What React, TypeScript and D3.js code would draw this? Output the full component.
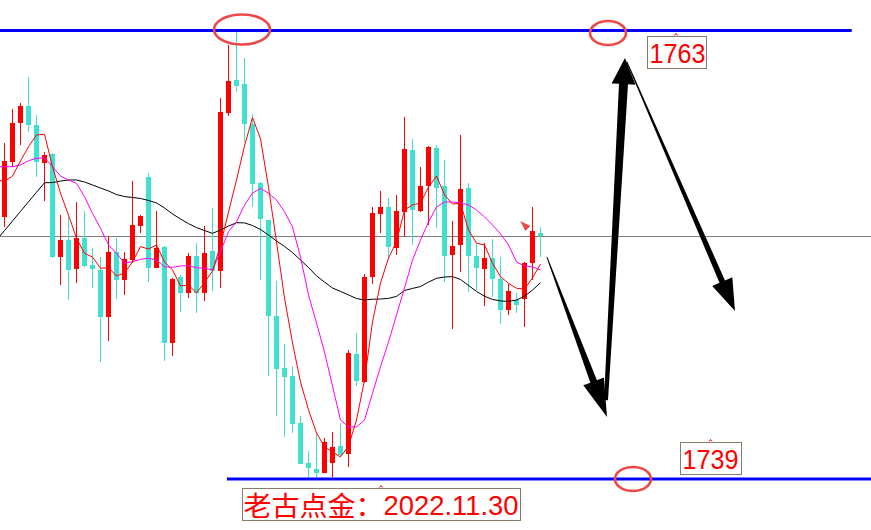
import React from 'react';
import * as d3 from 'd3';

const W = 871;
const H = 530;

// ---- candle data (index 0..67) ----
const opens = [1753.05,1755.97,1758.09,1759.00,1757.96,1755.91,1756.41,1750.91,1751.80,1750.25,1751.93,1750.46,1750.20,1747.70,1751.14,1749.66,1750.73,1752.55,1755.19,1750.32,1751.45,1746.27,1749.82,1748.95,1750.95,1748.95,1751.21,1750.16,1758.62,1760.38,1760.16,1758.02,1754.86,1752.88,1747.73,1744.96,1744.52,1742.02,1739.84,1739.54,1739.34,1739.87,1740.77,1740.32,1745.70,1744.21,1749.84,1753.21,1753.57,1751.36,1753.32,1756.63,1753.37,1754.70,1756.75,1754.70,1751.00,1751.54,1754.57,1750.95,1750.25,1750.82,1749.70,1748.05,1748.59,1748.64,1750.59,1752.16];
const highs = [1757.02,1758.82,1759.13,1760.55,1758.50,1756.53,1756.45,1753.14,1753.05,1753.86,1753.37,1751.36,1750.88,1752.02,1751.93,1751.16,1754.96,1753.14,1755.41,1753.36,1751.50,1749.75,1749.93,1751.12,1751.63,1752.55,1753.53,1759.43,1762.25,1763.05,1761.54,1758.54,1754.90,1752.90,1749.61,1746.23,1745.05,1742.38,1740.52,1741.41,1741.18,1741.50,1741.98,1745.91,1746.84,1749.98,1753.59,1754.43,1754.04,1754.21,1758.41,1757.21,1755.73,1756.85,1756.89,1756.09,1752.84,1757.43,1754.87,1751.57,1751.63,1751.86,1750.91,1749.43,1748.98,1750.60,1753.56,1752.52];
const lows = [1752.52,1755.73,1756.89,1757.61,1755.19,1753.91,1750.85,1749.39,1748.59,1749.48,1750.34,1749.23,1745.28,1746.41,1748.64,1748.86,1750.56,1752.19,1749.57,1750.30,1745.34,1745.61,1747.93,1748.68,1747.88,1748.54,1749.09,1749.25,1758.46,1759.75,1757.04,1753.56,1749.66,1744.52,1742.38,1741.27,1741.45,1739.78,1738.95,1738.95,1739.30,1739.12,1740.25,1739.66,1743.97,1744.15,1749.43,1752.19,1750.79,1751.00,1751.98,1751.54,1753.30,1752.61,1752.43,1749.53,1747.02,1750.11,1749.03,1749.13,1748.28,1748.77,1747.29,1747.79,1747.91,1747.16,1749.66,1750.87];
const closes = [1756.05,1758.09,1758.98,1757.96,1756.00,1756.36,1750.91,1751.80,1750.20,1751.93,1750.41,1750.25,1747.70,1751.18,1749.66,1750.79,1752.61,1753.09,1750.32,1751.39,1746.27,1749.71,1748.98,1750.95,1748.95,1751.09,1750.14,1758.64,1760.32,1760.05,1758.02,1754.80,1752.91,1747.73,1744.88,1744.48,1741.95,1739.80,1739.61,1739.34,1740.97,1740.70,1740.29,1745.73,1744.27,1749.84,1753.27,1753.57,1751.41,1753.36,1756.68,1753.41,1754.70,1756.80,1754.61,1750.96,1751.48,1754.54,1750.96,1750.32,1750.82,1749.70,1748.05,1749.07,1748.32,1750.56,1752.30,1752.00];

// ---- moving averages (first value = index -1, off the left edge) ----
const maFast = [1755.02,1754.94,1755.23,1756.04,1756.80,1757.43,1757.47,1755.73,1754.31,1753.14,1751.90,1751.09,1750.89,1750.29,1750.32,1749.88,1750.04,1750.63,1751.45,1751.32,1751.54,1750.63,1750.20,1749.34,1749.39,1748.97,1749.53,1750.14,1751.54,1753.30,1755.02,1756.84,1758.37,1757.22,1754.64,1751.70,1748.70,1746.29,1744.20,1742.70,1741.47,1740.72,1740.45,1740.18,1740.77,1742.16,1744.30,1747.41,1749.50,1750.84,1751.71,1753.41,1753.68,1753.79,1754.64,1755.23,1754.22,1753.73,1753.77,1752.34,1751.63,1751.54,1750.56,1749.84,1749.48,1749.22,1749.18,1749.77,1750.52];
const maMid = [1755.73,1755.73,1755.73,1755.82,1756.05,1756.18,1756.21,1755.73,1755.23,1755.02,1754.84,1754.12,1753.23,1752.43,1751.54,1751.09,1750.56,1750.64,1750.77,1750.82,1750.73,1750.37,1750.34,1750.41,1750.43,1750.32,1750.29,1750.20,1751.18,1752.25,1752.78,1753.68,1754.31,1754.57,1754.31,1753.95,1753.32,1752.50,1750.89,1748.86,1747.36,1745.80,1743.98,1742.16,1741.79,1741.79,1742.16,1743.59,1745.02,1746.34,1747.79,1749.23,1750.73,1751.80,1752.77,1753.57,1753.84,1753.84,1753.79,1753.68,1753.41,1753.04,1752.61,1752.13,1751.54,1750.63,1750.41,1750.36,1750.20];
const maSlow = [1751.80,1752.31,1752.82,1753.34,1753.85,1754.36,1754.87,1754.88,1754.96,1755.02,1755.02,1754.91,1754.75,1754.59,1754.43,1754.24,1754.13,1754.08,1754.03,1753.92,1753.79,1753.52,1753.20,1752.93,1752.68,1752.47,1752.31,1752.16,1752.34,1752.55,1752.73,1752.72,1752.58,1752.37,1752.07,1751.75,1751.46,1751.13,1750.73,1750.33,1749.88,1749.55,1749.23,1749.05,1748.86,1748.67,1748.59,1748.63,1748.64,1748.68,1748.78,1749.10,1749.21,1749.31,1749.55,1749.75,1749.82,1749.84,1749.69,1749.37,1749.05,1748.79,1748.62,1748.54,1748.51,1748.59,1748.79,1749.12,1749.52];

// ---- key levels and annotations (index, price) ----
const resistance = 1763;
const support = 1739;
const resistanceSpan = [-0.6, 105.9];
const supportSpan = [27.8, 112];
const ellipses = [
  { i: 29.69, p: 1763.08, rx: 28, ry: 15 },
  { i: 75.44, p: 1762.89, rx: 18, ry: 12 },
  { i: 78.56, p: 1739.0, rx: 18, ry: 12 },
];
const arrows = [
  { from: [67.81, 1750.89], to: [75.31, 1742.32], w0: 1, w1: 7, head: 22, len: 38 },
  { from: [75.19, 1743.23], to: [77.56, 1761.55], w0: 4, w1: 9, head: 24, len: 26 },
  { from: [77.81, 1761.34], to: [91.31, 1748.0], w0: 1, w1: 6, head: 22, len: 32 },
];
const labels = [
  { text: '1763', i: 83.94, p: 1762.73, w: 59, cjk: '' },
  { text: '1739', i: 88.25, p: 1740.98, w: 61, cjk: '' },
  { text: '2022.11.30', i: 47.06, p: 1738.52, w: 278, cjk: '老古点金：' },
];
const marker = { i: 65.1, p: 1752.55 };

const UP = '#FF0000';
const DOWN = '#40E0D0';

export default function App() {
  const x = d3.scaleLinear().domain([0, 67]).range([4.5, 540.5]);
  const y = d3.scaleLinear().domain([support, resistance]).range([479, 31]);

  const maLine = d3
    .line<number>()
    .x((_, i) => x(i - 1))
    .y((d) => y(d));

  const arrowPath = (a: any) => {
    const [ax, ay] = [x(a.from[0]), y(a.from[1])];
    const [bx, by] = [x(a.to[0]), y(a.to[1])];
    const dx = bx - ax, dy = by - ay;
    const L = Math.hypot(dx, dy);
    const ux = dx / L, uy = dy / L;
    const nx = -uy, ny = ux;
    const cx = bx - ux * a.len, cy = by - uy * a.len;
    const pts = [
      [ax + nx * a.w0 / 2, ay + ny * a.w0 / 2],
      [cx + nx * a.w1 / 2, cy + ny * a.w1 / 2],
      [cx + nx * a.head / 2, cy + ny * a.head / 2],
      [bx, by],
      [cx - nx * a.head / 2, cy - ny * a.head / 2],
      [cx - nx * a.w1 / 2, cy - ny * a.w1 / 2],
      [ax - nx * a.w0 / 2, ay - ny * a.w0 / 2],
    ];
    return 'M' + pts.map((p) => p[0].toFixed(1) + ',' + p[1].toFixed(1)).join('L') + 'Z';
  };

  const lastY = Math.round(y(closes[closes.length - 1])) + 0.5;
  const mx = x(marker.i), my = y(marker.p);

  return (
    <svg
      width={W}
      height={H}
      style={{ position: 'absolute', left: 0, top: 0, background: '#fff' }}
    >
      <rect x={0} y={0} width={W} height={H} fill="#fff" />
      {/* current price line */}
      <line x1={0} x2={W} y1={lastY} y2={lastY} stroke="#808080" strokeWidth={1} />

      {/* candles */}
      {closes.map((c, i) => {
        const o = opens[i];
        const up = c > o;
        const col = up ? UP : DOWN;
        const cx = x(i);
        const top = Math.round(y(Math.max(o, c)));
        const bot = Math.round(y(Math.min(o, c)));
        const hi = Math.round(y(highs[i]));
        const lo = Math.round(y(lows[i]));
        return (
          <g key={i}>
            <rect x={cx - 0.5} y={hi} width={1} height={Math.max(1, lo - hi)} fill={col} />
            <rect x={cx - 2.5} y={top} width={5} height={Math.max(1, bot - top)} fill={col} />
          </g>
        );
      })}

      {/* moving averages */}
      <path d={maLine(maSlow) || ''} fill="none" stroke="#000" strokeWidth={1} />
      <path d={maLine(maMid) || ''} fill="none" stroke="#FF00FF" strokeWidth={1} />
      <path d={maLine(maFast) || ''} fill="none" stroke="#FF0000" strokeWidth={1} />

      {/* key levels */}
      <line
        x1={x(resistanceSpan[0])}
        x2={x(resistanceSpan[1])}
        y1={y(resistance) - 0.5}
        y2={y(resistance) - 0.5}
        stroke="#0000FF"
        strokeWidth={3}
      />
      <line
        x1={x(supportSpan[0])}
        x2={x(supportSpan[1])}
        y1={y(support)}
        y2={y(support)}
        stroke="#0000FF"
        strokeWidth={3}
      />

      {/* ellipses */}
      {ellipses.map((e, k) => (
        <ellipse
          key={k}
          cx={x(e.i)}
          cy={y(e.p)}
          rx={e.rx}
          ry={e.ry}
          fill="none"
          stroke="#F04848"
          strokeWidth={2.6}
        />
      ))}

      {/* marker */}
      <path
        d={`M${mx - 5},${my - 5}L${mx + 5},${my}L${mx},${my + 5}Z`}
        fill="#F04848"
      />

      {/* arrows */}
      {arrows.map((a, k) => (
        <path key={k} d={arrowPath(a)} fill="#000" />
      ))}

      {/* labels */}
      {labels.map((l, k) => {
        const ax = x(l.i);
        const ay = y(l.p);
        const left = Math.round(ax - l.w / 2) + 0.5;
        const top = Math.round(ay) + 0.5;
        const base = top + 26;
        return (
          <g key={k}>
            <path
              d={`M${ax - 1.5},${top - 1}L${ax},${top - 3}L${ax + 1.5},${top - 1}`}
              fill="none"
              stroke="#FF0000"
              strokeWidth={1}
            />
            <rect x={left} y={top} width={l.w} height={32} fill="none" stroke="#8B7B6B" strokeWidth={1} />
            {l.cjk ? (
              <>
                <text
                  x={left + 1}
                  y={base + 1}
                  fontFamily="'Noto Sans CJK SC'"
                  fontSize={27}
                  fill="#FF0000"
                  textLength={140}
                  lengthAdjust="spacingAndGlyphs"
                >
                  {l.cjk}
                </text>
                <text
                  x={left + 141}
                  y={base}
                  fontFamily="'Liberation Sans', Arial, sans-serif"
                  fontSize={27}
                  fill="#FF0000"
                  textLength={135}
                  lengthAdjust="spacingAndGlyphs"
                >
                  {l.text}
                </text>
              </>
            ) : (
              <text
                x={left + 2}
                y={base}
                fontFamily="'Liberation Sans', Arial, sans-serif"
                fontSize={27}
                fill="#FF0000"
                textLength={56}
                lengthAdjust="spacingAndGlyphs"
              >
                {l.text}
              </text>
            )}
          </g>
        );
      })}
    </svg>
  );
}
